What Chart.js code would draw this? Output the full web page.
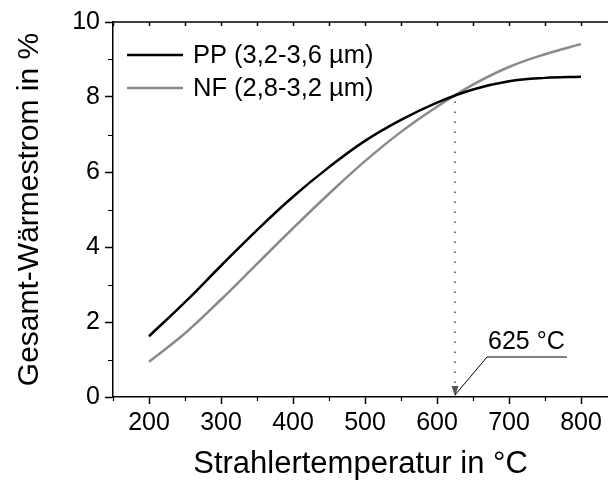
<!DOCTYPE html>
<html>
<head>
<meta charset="utf-8">
<script src="https://cdn.jsdelivr.net/npm/chart.js@4"></script>
<style>
html, body { margin: 0; padding: 0; background: #fff; }
#wrap { width: 608px; height: 483px; }
</style>
</head>
<body>
<div id="wrap"><canvas id="myChart" width="608" height="483"></canvas></div>
<script>
// Strahlertemperatur in °C
var temperatures = [200, 250, 300, 350, 400, 450, 500, 550, 600, 650, 700, 750, 800];
// Gesamt-Wärmestrom in %
var ppValues = [1.62, 2.53, 3.50, 4.45, 5.34, 6.13, 6.83, 7.39, 7.85, 8.20, 8.42, 8.51, 8.54];
var nfValues = [0.94, 1.70, 2.60, 3.55, 4.50, 5.42, 6.29, 7.07, 7.74, 8.33, 8.80, 9.14, 9.41];

var xTickLabels = [200, 300, 400, 500, 600, 700, 800];
var xMinorTicks = [150, 250, 350, 450, 550, 650, 750];
var yTickLabels = [0, 2, 4, 6, 8, 10];
var yMinorTicks = [1, 3, 5, 7, 9];

var crossTemp = 625;
var crossValue = 8.04;
var crossLabel = '625 °C';

var FONT = "'Liberation Sans', Arial, sans-serif";
Chart.defaults.font.family = FONT;
Chart.defaults.color = '#000';

var extras = {
    id: 'extras',
    afterDraw: function (chart) {
        var ctx = chart.ctx;
        var area = chart.chartArea;
        var xs = chart.scales.x;
        var ys = chart.scales.y;
        ctx.save();

        // top frame line with inward ticks
        ctx.strokeStyle = '#000';
        ctx.lineWidth = 1.5;
        ctx.beginPath();
        ctx.moveTo(area.left, area.top);
        ctx.lineTo(area.right, area.top);
        xTickLabels.concat(xMinorTicks).forEach(function (v) {
            var px = Math.round(xs.getPixelForValue(v)) + 0.5;
            ctx.moveTo(px, area.top);
            ctx.lineTo(px, area.top + 4);
        });
        ctx.stroke();

        // minor ticks outside
        ctx.lineWidth = 1.2;
        ctx.beginPath();
        xMinorTicks.forEach(function (v) {
            var px = Math.round(xs.getPixelForValue(v)) + 0.5;
            ctx.moveTo(px, area.bottom);
            ctx.lineTo(px, area.bottom + 4);
        });
        yMinorTicks.forEach(function (v) {
            var py = Math.round(ys.getPixelForValue(v)) + 0.5;
            ctx.moveTo(area.left - 5, py);
            ctx.lineTo(area.left, py);
        });
        ctx.stroke();

        // legend inside the plot
        ctx.font = '25.5px ' + FONT;
        ctx.textBaseline = 'middle';
        ctx.textAlign = 'left';
        chart.data.datasets.forEach(function (ds, i) {
            var y = 55 + i * 33;
            ctx.strokeStyle = ds.borderColor;
            ctx.lineWidth = 2.5;
            ctx.beginPath();
            ctx.moveTo(127, y);
            ctx.lineTo(183, y);
            ctx.stroke();
            ctx.fillStyle = '#000';
            ctx.fillText(ds.label, 193, y + 1);
        });

        // dotted drop line at the crossing point
        var cx = xs.getPixelForValue(crossTemp);
        var cy = ys.getPixelForValue(crossValue);
        ctx.strokeStyle = '#444';
        ctx.lineWidth = 1.5;
        ctx.setLineDash([1.5, 8.5]);
        ctx.beginPath();
        ctx.moveTo(cx, cy + 6);
        ctx.lineTo(cx, area.bottom - 10);
        ctx.stroke();
        ctx.setLineDash([]);

        // arrow head
        ctx.fillStyle = '#555';
        ctx.beginPath();
        ctx.moveTo(cx - 3.5, area.bottom - 11);
        ctx.lineTo(cx + 3.5, area.bottom - 11);
        ctx.lineTo(cx, area.bottom - 1);
        ctx.closePath();
        ctx.fill();

        // leader line + label
        ctx.strokeStyle = '#000';
        ctx.lineWidth = 1;
        ctx.beginPath();
        ctx.moveTo(cx, area.bottom - 2);
        ctx.lineTo(cx + 32, area.bottom - 40);
        ctx.lineTo(cx + 112, area.bottom - 40);
        ctx.stroke();
        ctx.fillStyle = '#000';
        ctx.font = '25px ' + FONT;
        ctx.textBaseline = 'alphabetic';
        ctx.fillText(crossLabel, cx + 33, area.bottom - 48);

        ctx.restore();
    }
};

var ctx = document.getElementById('myChart').getContext('2d');
var myChart = new Chart(ctx, {
    type: 'line',
    data: {
        labels: temperatures,
        datasets: [{
            label: 'PP (3,2-3,6 µm)',
            data: temperatures.map(function (t, i) { return {x: t, y: ppValues[i]}; }),
            borderColor: '#000000',
            borderWidth: 2.5,
            pointRadius: 0,
            fill: false,
            tension: 0.4},
        {
            label: 'NF (2,8-3,2 µm)',
            data: temperatures.map(function (t, i) { return {x: t, y: nfValues[i]}; }),
            borderColor: '#8a8a8a',
            borderWidth: 2.5,
            pointRadius: 0,
            fill: false,
            tension: 0.4}
        ]
    },
    options: {
        responsive: false,
        animation: false,
        layout: {
            padding: {top: 22, right: 0, bottom: 0, left: 0}
        },
        plugins: {
            legend: {display: false},
            tooltip: {enabled: false}
        },
        scales: {
            x: {
                type: 'linear',
                min: 150,
                max: 837.5,
                afterBuildTicks: function (scale) {
                    scale.ticks = xTickLabels.map(function (v) { return {value: v}; });
                },
                afterFit: function (scale) { scale.height = 86; },
                border: {display: true, color: '#000', width: 1.5},
                grid: {drawOnChartArea: false, tickLength: 7, tickColor: '#000', tickWidth: 1.5},
                ticks: {font: {size: 25}, padding: 4, maxRotation: 0, color: '#000'},
                title: {
                    display: true,
                    text: 'Strahlertemperatur in °C',
                    font: {size: 31},
                    color: '#000',
                    padding: {top: 0, bottom: 0}
                }
            },
            y: {
                min: 0,
                max: 10,
                afterBuildTicks: function (scale) {
                    scale.ticks = yTickLabels.map(function (v) { return {value: v}; });
                },
                afterFit: function (scale) { scale.width = 113; },
                border: {display: true, color: '#000', width: 1.5},
                grid: {drawOnChartArea: false, tickLength: 8, tickColor: '#000', tickWidth: 1.5},
                ticks: {font: {size: 25}, padding: 5, color: '#000'},
                title: {
                    display: true,
                    text: 'Gesamt-Wärmestrom in %',
                    font: {size: 30},
                    color: '#000',
                    padding: {top: 12, bottom: 0}
                }
            }
        }
    },
    plugins: [extras]
});
</script>
</body>
</html>
